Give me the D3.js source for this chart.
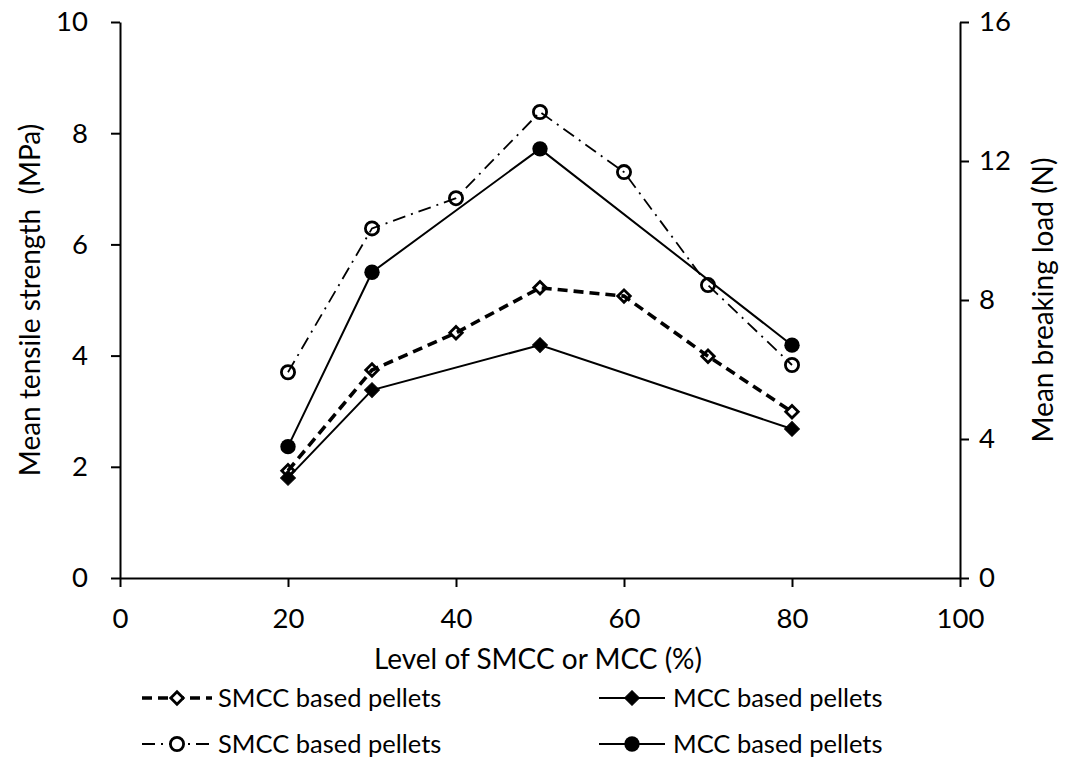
<!DOCTYPE html>
<html><head><meta charset="utf-8">
<script src="https://cdn.jsdelivr.net/npm/d3@7"></script>
<style>
body{margin:0;background:#fff}
svg text{font-family:Lato, "Open Sans", sans-serif;fill:#000}
</style>
</head><body>
<svg id="chart" width="1069" height="760"></svg>
<script>
// ---- data ----
const levels = [20, 30, 40, 50, 60, 70, 80];
const smccTensile = [1.93, 3.74, 4.41, 5.22, 5.07, 3.99, 2.99];   // MPa, left axis
const smccLoad = [5.92, 10.06, 10.93, 13.41, 11.68, 8.43, 6.13];  // N, right axis
const mccLevels = [20, 30, 50, 80];
const mccTensile = [1.80, 3.38, 4.19, 2.68];                      // MPa, left axis
const mccLoad = [3.78, 8.80, 12.35, 6.70];                        // N, right axis
const xTicks = [0, 20, 40, 60, 80, 100];
const yLeftTicks = [0, 2, 4, 6, 8, 10];
const yRightTicks = [0, 4, 8, 12, 16];
const xTitle = "Level of SMCC or MCC (%)";
const yLeftTitle = "Mean tensile strength  (MPa)";
const yRightTitle = "Mean breaking load (N)";
const legendLabels = ["SMCC based pellets", "MCC based pellets", "SMCC based pellets", "MCC based pellets"];

// ---- layout ----
const L = 120, R = 960, T = 22, B = 578;
const FS = 27.5;
const svg = d3.select("#chart");
const x = d3.scaleLinear([0, 100], [L, R]);
const yL = d3.scaleLinear([0, 10], [B, T]);
const yR = d3.scaleLinear([0, 16], [B, T]);

function styleAxis(g) {
  g.select(".domain").attr("stroke", "#000").attr("stroke-width", 2);
  g.selectAll(".tick line").attr("stroke", "#000").attr("stroke-width", 2);
  g.selectAll(".tick text").attr("font-size", FS).attr("font-family", null).attr("fill", "#000");
}

const gx = svg.append("g").attr("transform", `translate(0,${B})`)
  .call(d3.axisBottom(x).tickValues(xTicks).tickSize(9).tickSizeOuter(0).tickFormat(d3.format("d")));
styleAxis(gx);
gx.selectAll(".tick text").attr("y", 50).attr("dy", 0);

const gl = svg.append("g").attr("transform", `translate(${L},0)`)
  .call(d3.axisLeft(yL).tickValues(yLeftTicks).tickSize(9).tickSizeOuter(0).tickFormat(d3.format("d")));
styleAxis(gl);
gl.selectAll(".tick text").attr("x", -32);

const gr = svg.append("g").attr("transform", `translate(${R},0)`)
  .call(d3.axisRight(yR).tickValues(yRightTicks).tickSize(9).tickSizeOuter(0).tickFormat(d3.format("d")));
styleAxis(gr);
gr.selectAll(".tick text").attr("x", 19);

// titles
svg.append("text").attr("x", 538).attr("y", 669).attr("text-anchor", "middle").attr("font-size", FS + 0.5).text(xTitle);
svg.append("text").attr("transform", `translate(40,300) rotate(-90)`).attr("text-anchor", "middle")
  .attr("font-size", FS + 0.5).style("white-space", "pre").text(yLeftTitle);
svg.append("text").attr("transform", `translate(1053,300) rotate(-90)`).attr("text-anchor", "middle").attr("font-size", FS + 0.5).text(yRightTitle);

// ---- series ----
const series = [
  {xs: levels, ys: smccTensile, y: yL, dash: "10,6", width: 3.6, marker: "diamond", fill: "none"},
  {xs: mccLevels, ys: mccTensile, y: yL, dash: null, width: 2, marker: "diamond", fill: "#000"},
  {xs: levels, ys: smccLoad, y: yR, dash: "13,6,2,6", width: 1.8, marker: "circle", fill: "none"},
  {xs: mccLevels, ys: mccLoad, y: yR, dash: null, width: 2, marker: "circle", fill: "#000"}
];

function drawMarker(g, cx, cy, s, legend) {
  const fill = legend && s.fill === "none" ? "#fff" : s.fill;
  if (s.marker === "diamond") {
    const area = s.fill === "none" ? 78 : 110;
    g.append("path").attr("d", d3.symbol(d3.symbolSquare, area)())
      .attr("transform", `translate(${cx},${cy}) rotate(45)`)
      .attr("fill", fill).attr("stroke", "#000").attr("stroke-width", s.fill === "none" ? 2.8 : 1);
  } else {
    g.append("circle").attr("cx", cx).attr("cy", cy).attr("r", s.fill === "none" ? 6.6 : 7.7)
      .attr("fill", fill).attr("stroke", "#000").attr("stroke-width", s.fill === "none" ? 2.8 : 0);
  }
}

series.forEach(s => {
  const pts = s.xs.map((v, i) => [v, s.ys[i]]);
  const line = d3.line().x(d => x(d[0])).y(d => s.y(d[1]));
  svg.append("path").attr("d", line(pts)).attr("fill", "none").attr("stroke", "#000")
    .attr("stroke-width", s.width).attr("stroke-dasharray", s.dash);
  const g = svg.append("g");
  pts.forEach(d => drawMarker(g, x(d[0]), s.y(d[1]), s, false));
});

// ---- legend ----
const legendPos = [
  {x0: 142, x1: 212, tx: 218, y: 698},
  {x0: 599, x1: 665, tx: 673, y: 698},
  {x0: 142, x1: 212, tx: 218, y: 744},
  {x0: 599, x1: 665, tx: 673, y: 744}
];
const lg = svg.append("g");
series.forEach((s, i) => {
  const p = legendPos[i];
  lg.append("line").attr("x1", p.x0).attr("x2", p.x1).attr("y1", p.y).attr("y2", p.y)
    .attr("stroke", "#000").attr("stroke-width", s.width).attr("stroke-dasharray", s.dash);
  drawMarker(lg, (p.x0 + p.x1) / 2, p.y, s, true);
  lg.append("text").attr("x", p.tx).attr("y", p.y + 9).attr("font-size", FS - 2).text(legendLabels[i]);
});
</script>
</body></html>
